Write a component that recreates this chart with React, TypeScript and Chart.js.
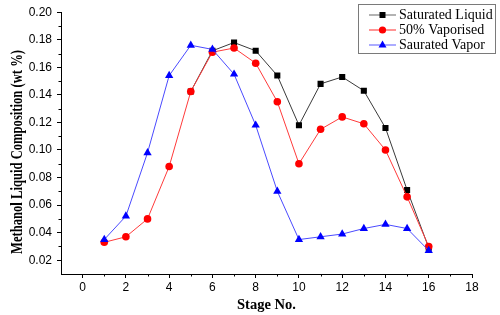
import React, { useEffect, useRef } from 'react';
import { Chart, registerables } from 'chart.js';

Chart.register(...registerables);

const stages = [1, 2, 3, 4, 5, 6, 7, 8, 9, 10, 11, 12, 13, 14, 15, 16];
const saturatedLiquid = [null, null, null, null, 0.1425, 0.172, 0.178, 0.172, 0.154, 0.118, 0.148, 0.153, 0.143, 0.116, 0.071, 0.029];
const vaporised50 = [0.033, 0.037, 0.050, 0.088, 0.1425, 0.171, 0.174, 0.163, 0.135, 0.090, 0.115, 0.124, 0.119, 0.100, 0.066, 0.030];
const saturatedVapor = [0.035, 0.052, 0.098, 0.154, 0.176, 0.173, 0.155, 0.118, 0.070, 0.035, 0.037, 0.039, 0.043, 0.046, 0.043, 0.027];

const xTicks = [0, 2, 4, 6, 8, 10, 12, 14, 16, 18];
const xMinorTicks = [1, 3, 5, 7, 9, 11, 13, 15, 17];
const yTicks = [0.02, 0.04, 0.06, 0.08, 0.10, 0.12, 0.14, 0.16, 0.18, 0.20];
const yMinorTicks = [0.03, 0.05, 0.07, 0.09, 0.11, 0.13, 0.15, 0.17, 0.19];

const seriesLabels = ['Saturated Liquid', '50% Vaporised', 'Saurated Vapor'];
const xTitle = 'Stage No.';
const yTitle = 'Methanol Liquid Composition (wt %)';

const toPoints = (vals: (number | null)[]) => stages.map((s, i) => ({ x: s, y: vals[i] }));

const decorPlugin = {
  id: 'decor',
  afterDraw(chart: any) {
    const ctx = chart.ctx as CanvasRenderingContext2D;
    const xs = chart.scales.x;
    const ys = chart.scales.y;
    const area = chart.chartArea;
    ctx.save();
    // minor ticks
    ctx.strokeStyle = '#000';
    ctx.lineWidth = 1;
    ctx.beginPath();
    for (const v of xMinorTicks) {
      const px = Math.round(xs.getPixelForValue(v)) + 0.5;
      ctx.moveTo(px, area.bottom);
      ctx.lineTo(px, area.bottom + 2.5);
    }
    for (const v of yMinorTicks) {
      const py = Math.round(ys.getPixelForValue(v)) + 0.5;
      ctx.moveTo(area.left, py);
      ctx.lineTo(area.left - 2.5, py);
    }
    ctx.stroke();

    // axis titles
    ctx.fillStyle = '#000';
    ctx.font = 'bold 15px "Liberation Serif"';
    ctx.textAlign = 'center';
    ctx.textBaseline = 'middle';
    const xw = ctx.measureText(xTitle).width;
    ctx.save();
    ctx.translate((area.left + area.right) / 2, 305);
    ctx.scale(59 / xw, 1);
    ctx.fillText(xTitle, 0, 0);
    ctx.restore();

    ctx.save();
    ctx.font = 'bold 16px "Liberation Serif"';
    ctx.translate(18, 152);
    ctx.rotate(-Math.PI / 2);
    const w = ctx.measureText(yTitle).width;
    ctx.scale(204 / w, 1);
    ctx.fillText(yTitle, 0, 0);
    ctx.restore();

    // legend
    const lx = 358.5, ly = 4.5, lw = 137, lh = 49;
    ctx.fillStyle = '#fff';
    ctx.fillRect(lx, ly, lw, lh);
    ctx.strokeStyle = '#7a7a7a';
    ctx.lineWidth = 1;
    ctx.strokeRect(lx, ly, lw, lh);
    const ds = chart.data.datasets;
    const rowsY = [15, 30, 45];
    for (let i = 0; i < 3; i++) {
      const d = ds[i];
      const y = rowsY[i];
      ctx.strokeStyle = d.legendLineColor;
      ctx.lineWidth = 1.5;
      ctx.beginPath();
      ctx.moveTo(369, y);
      ctx.lineTo(396, y);
      ctx.stroke();
      ctx.fillStyle = d.pointBackgroundColor;
      const cx = 382.5;
      if (d.pointStyle === 'rect') {
        ctx.fillRect(cx - 3, y - 3, 6, 6);
      } else if (d.pointStyle === 'circle') {
        ctx.beginPath();
        ctx.arc(cx, y, 3.6, 0, Math.PI * 2);
        ctx.fill();
      } else {
        ctx.beginPath();
        ctx.moveTo(cx, y - 4.6);
        ctx.lineTo(cx + 4, y + 2.6);
        ctx.lineTo(cx - 4, y + 2.6);
        ctx.closePath();
        ctx.fill();
      }
      ctx.fillStyle = '#000';
      ctx.font = '14px "Liberation Serif"';
      ctx.textAlign = 'left';
      ctx.textBaseline = 'middle';
      ctx.fillText(d.label, 399, y + 0.5);
    }
    ctx.restore();
  },
};

export default function App() {
  const canvasRef = useRef<HTMLCanvasElement | null>(null);

  useEffect(() => {
    const canvas = canvasRef.current;
    if (!canvas) return;
    const tickFont = { family: '"Liberation Sans", Arial, sans-serif', size: 12 };
    const chart = new Chart(canvas, {
      type: 'line',
      data: {
        datasets: [
          {
            label: seriesLabels[0],
            data: toPoints(saturatedLiquid),
            borderColor: '#3a3a3a',
            borderWidth: 1,
            pointStyle: 'rect',
            pointRadius: 4.3,
            pointBackgroundColor: '#000',
            pointBorderColor: '#000',
            pointBorderWidth: 0,
            legendLineColor: '#9a9a9a',
            order: 3,
          } as any,
          {
            label: seriesLabels[1],
            data: toPoints(vaporised50),
            borderColor: '#ff3a3a',
            borderWidth: 1,
            pointStyle: 'circle',
            pointRadius: 3.8,
            pointBackgroundColor: '#ff0000',
            pointBorderColor: '#ff0000',
            pointBorderWidth: 0,
            legendLineColor: '#ff7070',
            order: 2,
          } as any,
          {
            label: seriesLabels[2],
            data: toPoints(saturatedVapor),
            borderColor: '#4a4aff',
            borderWidth: 1,
            pointStyle: 'triangle',
            pointRadius: 4.8,
            pointBackgroundColor: '#0000ff',
            pointBorderColor: '#0000ff',
            pointBorderWidth: 0,
            legendLineColor: '#9090ff',
            order: 1,
          } as any,
        ],
      },
      options: {
        animation: false,
        responsive: false,
        spanGaps: false,
        layout: { padding: { left: 0, top: 10, right: 28, bottom: 0 } },
        plugins: { legend: { display: false }, tooltip: { enabled: false } },
        scales: {
          x: {
            type: 'linear',
            min: -1,
            max: 18,
            afterBuildTicks: (s: any) => {
              s.ticks = xTicks.map((v) => ({ value: v }));
            },
            afterFit: (s: any) => {
              s.height = 41;
            },
            grid: { drawOnChartArea: false, tickLength: 4, tickColor: '#000', tickWidth: 1 },
            border: { color: '#000', width: 1 },
            ticks: { font: tickFont, color: '#000', padding: 2, maxRotation: 0, autoSkip: false },
          },
          y: {
            type: 'linear',
            min: 0.01,
            max: 0.2,
            afterBuildTicks: (s: any) => {
              s.ticks = yTicks.map((v) => ({ value: v }));
            },
            afterFit: (s: any) => {
              s.width = 61;
            },
            grid: { drawOnChartArea: false, tickLength: 4, tickColor: '#000', tickWidth: 1 },
            border: { color: '#000', width: 1 },
            ticks: {
              font: tickFont,
              color: '#000',
              padding: 5,
              autoSkip: false,
              callback: (v: any) => Number(v).toFixed(2),
            },
          },
        },
      } as any,
      plugins: [decorPlugin],
    });
    return () => chart.destroy();
  }, []);

  return (
    <div style={{ position: 'absolute', left: 0, top: 0, width: 500, height: 315, background: '#fff' }}>
      <canvas ref={canvasRef} width={500} height={315} style={{ display: 'block', width: 500, height: 315 }} />
    </div>
  );
}
